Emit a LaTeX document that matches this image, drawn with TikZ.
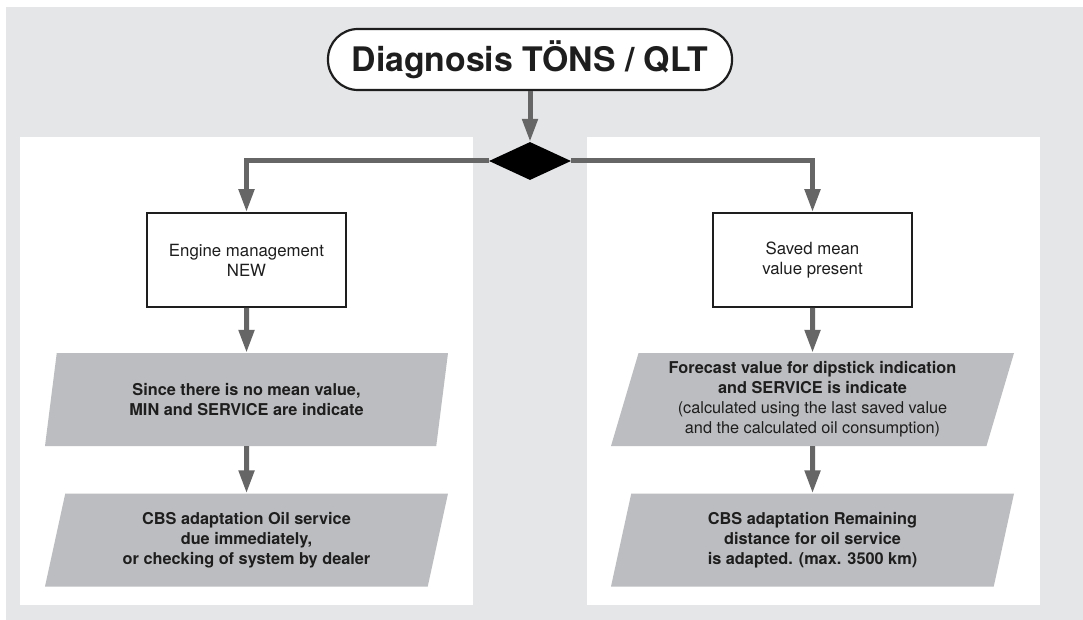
\documentclass[tikz,border=0pt]{standalone}
\usepackage{fontspec}
\setmainfont{TeX Gyre Heros}
\usetikzlibrary{positioning}
\usetikzlibrary{arrows.meta,shapes.geometric}
\definecolor{bggray}{HTML}{E5E6E8}
\definecolor{paragray}{HTML}{BCBDC0}
\definecolor{flowgray}{HTML}{666666}
\definecolor{inkblack}{HTML}{1E1E1E}

\begin{document}
\begin{tikzpicture}[x=1pt, y=-1pt,
		font=\fontsize{16.8}{20}\selectfont,
		statebox/.style={draw=inkblack, line width=1.8pt, fill=white, minimum width=199pt, minimum height=94pt, align=center, text=inkblack},
		outbox/.style={trapezium, trapezium left angle=70, trapezium right angle=110, trapezium stretches body, fill=paragray, minimum width=403pt, minimum height=93pt, inner sep=0pt, align=center, text=inkblack, font=\fontsize{16.3}{20}\selectfont\bfseries},
		flow/.style={draw=flowgray, line width=5pt, -{Triangle[width=15pt,length=23pt]}}]
		\useasboundingbox (0,0) rectangle (1083,620);
		\fill[bggray] (6,7) rectangle (1083,620);
		\fill[white] (20,137) rectangle (473,605);
		\fill[white] (587,137) rectangle (1040,605);
		
		\node (title) [draw=inkblack, line width=2.2pt, fill=white, rounded corners=30pt, minimum width=404pt, minimum height=61pt, font=\fontsize{33.8}{40}\selectfont\bfseries, text=inkblack] at (530, 59.5) {Diagnosis TÖNS / QLT};
		\node (dia) [diamond, fill=black, inner sep=0pt, minimum width=82pt, minimum height=38pt] at (530, 161) {};
		
		\node (eng) [statebox] at (246.5, 260) {Engine management\\NEW};
		\node (sav) [statebox] at (812.5, 260) {Saved mean\\value present};
		
		\node (nomin) [outbox] at (246.5, 399.5) {Since there is no mean value,\\MIN and SERVICE are indicate};
		\node (cbsl) [outbox] at (246.5, 540) {CBS adaptation Oil service\\due immediately,\\or checking of system by dealer};
		\node (fore) [outbox] at (812.5, 399.5) {Forecast value for dipstick indication\\and SERVICE is indicate\\\mdseries (calculated using the last saved value\\\mdseries and the calculated oil consumption)};
		\node (cbsr) [outbox] at (812.5, 540) {CBS adaptation Remaining\\distance for oil service\\is adapted. (max. 3500 km)};
		
		\draw[flow] (title) -- (dia);
		\draw[flow] (dia.west) -| (eng);
		\draw[flow] (dia.east) -| (sav);
		\draw[flow] (eng) -- (nomin);
		\draw[flow] (nomin) -- (cbsl);
		\draw[flow] (sav) -- (fore);
		\draw[flow] (fore) -- (cbsr);
	\end{tikzpicture}
\end{document}
